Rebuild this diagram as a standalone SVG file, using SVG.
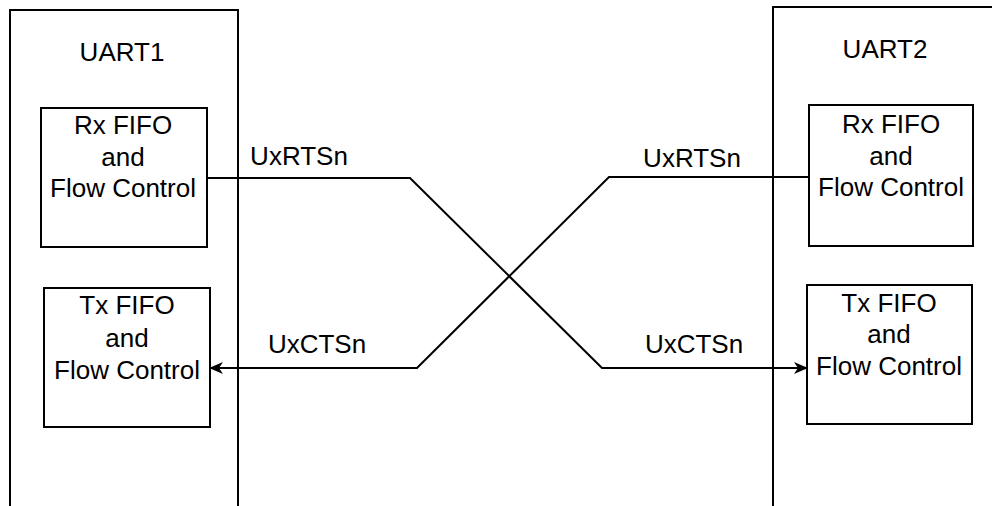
<svg xmlns="http://www.w3.org/2000/svg" width="992" height="506" viewBox="0 0 992 506">
<style>
.box{fill:#fff;stroke:#000;stroke-width:2}
.wire{fill:none;stroke:#000;stroke-width:2}
text{font-family:"Liberation Sans",Arial,sans-serif;font-size:26px;fill:#000;text-anchor:middle}
</style>
<defs>
<marker id="arr" viewBox="0 0 14 12" refX="13" refY="6" markerWidth="14" markerHeight="12" markerUnits="userSpaceOnUse" orient="auto">
<path d="M0,0 L14,6 L0,12 L4,6 Z" fill="#000"/>
</marker>
</defs>
<rect width="992" height="506" fill="#fff"/>
<g id="uart1">
<rect class="box" x="10" y="10" width="228" height="520"/>
<text x="122" y="61">UART1</text>
</g>
<g id="uart2">
<rect class="box" x="773" y="7" width="240" height="520"/>
<text x="885" y="58">UART2</text>
</g>
<g id="rx1">
<rect class="box" x="41" y="108" width="166" height="139"/>
<text x="123" y="134">Rx FIFO</text>
<text x="123" y="166">and</text>
<text x="123" y="197">Flow Control</text>
</g>
<g id="tx1">
<rect class="box" x="44" y="288" width="166" height="139"/>
<text x="127" y="314">Tx FIFO</text>
<text x="127" y="347">and</text>
<text x="127" y="379">Flow Control</text>
</g>
<g id="rx2">
<rect class="box" x="809" y="105" width="164" height="141"/>
<text x="891" y="133">Rx FIFO</text>
<text x="891" y="165">and</text>
<text x="891" y="196">Flow Control</text>
</g>
<g id="tx2">
<rect class="box" x="807" y="285" width="165" height="139"/>
<text x="889" y="312">Tx FIFO</text>
<text x="889" y="343">and</text>
<text x="889" y="375">Flow Control</text>
</g>
<g id="connectors">
<path class="wire" d="M207,178 L410,178 L602,368 L807,368" marker-end="url(#arr)"/>
<path class="wire" d="M809,177 L609,177 L417,368 L210,368" marker-end="url(#arr)"/>
<text x="299" y="165">UxRTSn</text>
<text x="692" y="167">UxRTSn</text>
<text x="317" y="353">UxCTSn</text>
<text x="694" y="353">UxCTSn</text>
</g>
</svg>
